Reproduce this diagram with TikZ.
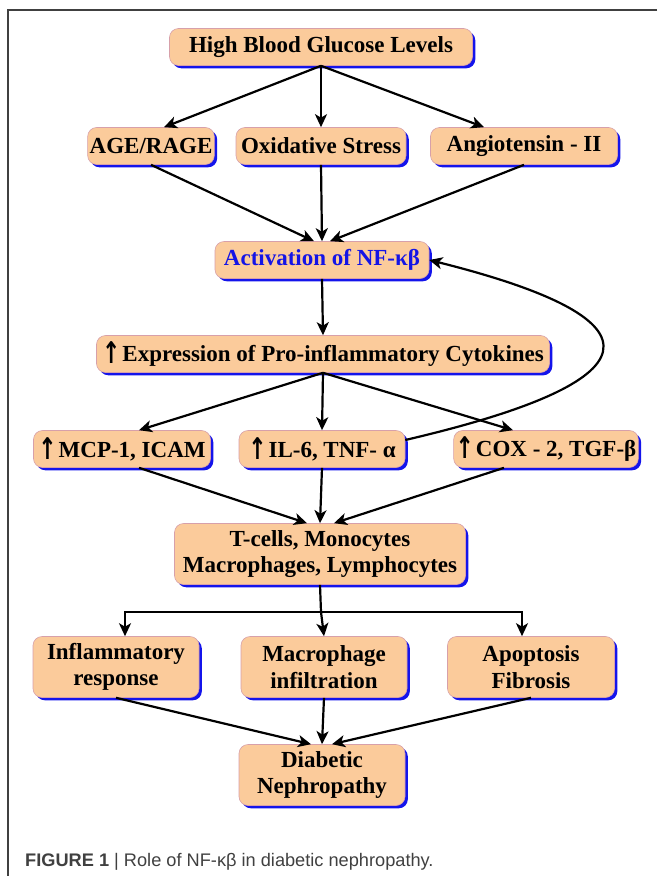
\documentclass[tikz,border=0pt]{standalone}
\usepackage{fontspec}
\setmainfont{Liberation Serif}
\newfontfamily\capfont{Liberation Sans}
\newfontfamily\arrowfont{DejaVu Sans}
\usetikzlibrary{arrows.meta,shadows}
\definecolor{boxfill}{RGB}{251,203,155}
\definecolor{boxline}{RGB}{215,160,170}
\definecolor{shadowblue}{RGB}{20,20,235}
\definecolor{nfblue}{RGB}{20,20,230}
\newcommand{\upar}{\raisebox{-0.1em}{\scalebox{0.95}[1.3]{\arrowfont\bfseries ↑}}\kern2pt}

\begin{document}
\begin{tikzpicture}
  [x=1pt,y=-1pt,
   box/.style={draw=boxline,line width=0.6pt,fill=boxfill,rounded corners=9pt,
     align=center,inner sep=2pt,minimum height=37pt,
     font=\fontsize{23}{26.5}\selectfont\bfseries,
     drop shadow={shadow xshift=2.8pt,shadow yshift=-2.8pt,fill=shadowblue,opacity=1}},
   tall/.style={box,minimum height=61pt},
   arr/.style={line width=2.2pt,-{Stealth[length=13pt,width=12pt,inset=3.5pt]}},
   line/.style={line width=2.2pt}]
  \useasboundingbox (0,0) rectangle (657,876);
  \draw[line width=1.4pt,black!75] (657,10) -- (8,10) -- (8,876);

  \node[box,minimum width=303pt] (hbg) at (321,47)  {High Blood Glucose Levels};
  \node[box,minimum width=124pt] (age) at (151,146) {AGE/RAGE};
  \node[box,minimum width=170pt] (ox)  at (321,146) {Oxidative Stress};
  \node[box,minimum width=187pt] (ang) at (524,146) {Angiotensin - II};
  \node[box,minimum width=214pt,text=nfblue] (act) at (322,260) {Activation of NF-κβ};
  \node[box,minimum width=453pt] (expr) at (323,354) {\upar Expression of Pro-inflammatory Cytokines};
  \node[box,minimum width=177pt] (mcp) at (122,449) {\upar MCP-1, ICAM};
  \node[box,minimum width=166pt] (il6) at (322,449) {\upar IL-6, TNF- α};
  \node[box,minimum width=177pt] (cox) at (546,449) {\upar COX - 2, TGF-β};
  \node[tall,minimum width=291pt] (cells) at (320,554) {T-cells, Monocytes\\Macrophages, Lymphocytes};
  \node[tall,minimum width=166pt] (infl) at (116,667) {Inflammatory\\response};
  \node[tall,minimum width=166pt] (mphg) at (324,667) {Macrophage\\infiltration};
  \node[tall,minimum width=167pt] (apop) at (531,667) {Apoptosis\\Fibrosis};
  \node[tall,minimum width=166pt] (dn) at (322,775) {Diabetic\\Nephropathy};

  \coordinate (split) at (321,612);

  % glucose to the three pathways
  \draw[arr] (hbg.south) -- ([xshift=13pt]age.north);
  \draw[arr] (hbg.south) -- (ox.north);
  \draw[arr] (hbg.south) -- ([xshift=-40pt]ang.north);
  \draw[arr] (age.south) -- ([xshift=-8pt]act.north);
  \draw[arr] (ox.south) -- (act.north);
  \draw[arr] (ang.south) -- ([xshift=8pt]act.north);
  \draw[arr] (act.south) -- (expr.north);

  % cytokines
  \draw[arr] (expr.south) -- ([xshift=17pt]mcp.north);
  \draw[arr] (expr.south) -- (il6.north);
  \draw[arr] (expr.south) -- ([xshift=-33pt]cox.north);
  \draw[arr] ([yshift=9pt]il6.east) .. controls (654,382) and (673,321) .. (act.east);

  \draw[arr] ([xshift=17pt]mcp.south) -- ([xshift=-13pt]cells.north);
  \draw[arr] (il6.south) -- (cells.north);
  \draw[arr] ([xshift=-42pt]cox.south) -- ([xshift=14pt]cells.north);

  % cells to outcomes
  \draw[line] (cells.south) -- (split);
  \draw[arr] (split) -| ([xshift=9pt]infl.north);
  \draw[arr] (split) -- (mphg.north);
  \draw[arr] (split) -| ([xshift=-9pt]apop.north);

  \draw[arr] (infl.south) -- ([xshift=-11pt]dn.north);
  \draw[arr] (mphg.south) -- (dn.north);
  \draw[arr] (apop.south) -- ([xshift=10pt]dn.north);

  \node[anchor=base west,inner sep=0pt,text=black!75,font=\capfont\fontsize{18.2}{20}\selectfont]
    (caption) at (25,866) {\textbf{FIGURE 1} | Role of NF-κβ in diabetic nephropathy.};
\end{tikzpicture}
\end{document}
